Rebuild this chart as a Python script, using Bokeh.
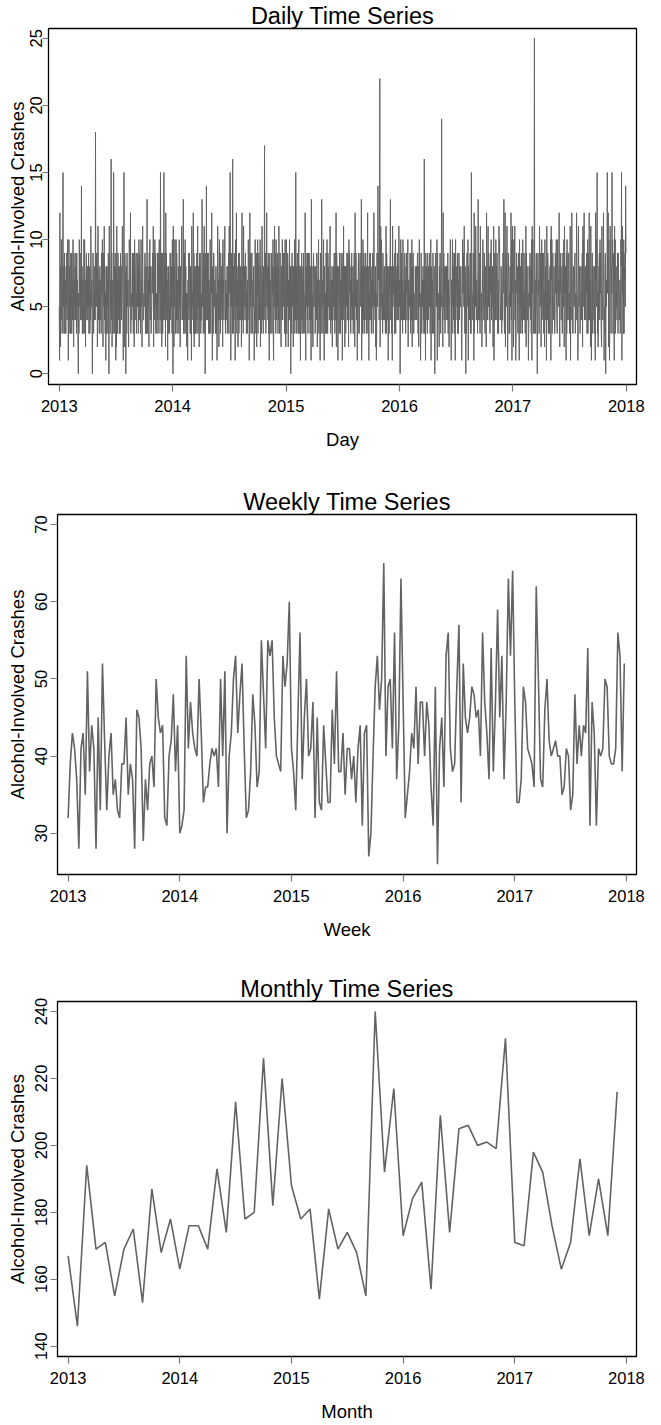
from bokeh.plotting import figure
from bokeh.layouts import column
from bokeh.models import FixedTicker, Range1d
from bokeh.embed import file_html
from bokeh.resources import INLINE

FONT = "Liberation Sans"

# ---------------- data ----------------
# Daily counts, one base-36 character per day (0-9, a=10 ... p=25), one string per year
daily_2013 = (
    "51c6284a73" "49f5836937" "6385947a51" "7a48363959" "3748a62957" "4849639574"
    "2063a85947" "6e4837354a" "3a86274958" "8465937836" "4b85730496" "388464i597"
    "5926b84736" "84473968a5" "2795b48361" "6838573940" "b86375g492" "5736f83849"
    "6182b57394" "8683739584" "68b7315f62" "9870483956" "7426a958c3" "6447958395"
    "2a74689365" "95837a4946" "38a5729b64" "4657993883" "4d63857296" "a487345869"
    "7b2648a593" "5643948973" "a684f73925" "93647f4958" "2c69475183" "8753694958"
    "63a"
)
daily_2014 = (
    "40b6285a73" "5a49374586" "3a5728469b" "6457d38493" "a483626517" "5949863837"
    "1b8564c392" "7843836945" "b385629497" "3644d85739" "7b380594e6" "4948937635"
    "a7396c5184" "3996574388" "3615b94728" "a493746859" "2a67489b53" "7464835859"
    "3b86f71495" "83g6384957" "1a93c58472" "6939458847" "29c4863b57" "8449583653"
    "74a8613c59" "5369943758" "8154a73962" "96a3849547" "a28536b947" "3864h59934"
    "7c56849381" "5947368938" "6a3185b749" "3a64859384" "b735964288" "4a47596938"
    "a52"
)
daily_2015 = (
    "6a38598274" "4a47808639" "5782846a39" "4f58379463" "9a37851846" "9374839665"
    "3c61857949" "3975948368" "1d48362897" "5873486499" "2758a37461" "9834d85736"
    "a518466397" "3a73958644" "9b63745827" "4885973946" "c294851786" "3957369848"
    "1694b56827" "8385794946" "2a69847385" "9464837795" "2c58946717" "3896348975"
    "6d1583a749" "3874896384" "5c38716497" "9473685943" "7c95648261" "3956e79848"
    "m28b5a7463" "9647848536" "b396487158" "3869d45837" "1b58867394" "a385749648"
    "4b7"
)
daily_2016 = (
    "5703a84967" "3a84564957" "3869458a27" "4657983946" "a284973655" "4864584799"
    "3827a56614" "9536758473" "g357196846" "3974885593" "6a18574394" "3684039865"
    "7a19465528" "497365j964" "2c59478386" "6485849376" "2568a95174" "3a57849397"
    "1a46785937" "3694875586" "3147a6985b" "5386043897" "5a18664793" "93f8546697"
    "1c3895b847" "6538d47549" "3b8546247a" "9644963857" "2c7548b596" "483796a475"
    "8526b13794" "5a48796374" "3b9a645587" "3645969d43" "7c28957b61" "4897363856"
    "c4a17b"
)
daily_2017 = (
    "6a2458b471" "3996843597" "1a75836946" "3a84597463" "5b29684461" "387595483a"
    "1b6a5349p3" "7538954049" "6743b85792" "4a45979356" "2a58461b74" "983763485a"
    "1b7a359654" "8534968a54" "3a9675c428" "6944583697" "5a2b678419" "3a74599463"
    "8b1546c953" "3875589346" "4c96512b85" "7835484669" "2b5a9c4786" "486935a394"
    "8c4672b516" "9938664835" "1c7a59f362" "48894a6953" "2b6547c815" "38907576f6"
    "8c2a514b97" "386f8a3495" "1b7a358564" "9839664473" "5a8f14b693" "a38795e9"
)
daily_years = [2013, 2014, 2015, 2016, 2017]
daily_codes = [daily_2013, daily_2014, daily_2015, daily_2016, daily_2017]

weekly_counts = [
    32, 39, 43, 41, 37, 28, 41, 43, 35, 51, 38, 44, 41, 28, 45, 33, 52, 42, 33, 40,
    43, 35, 37, 33, 32, 39, 39, 45, 35, 39, 37, 28, 46, 45, 41, 29, 37, 33, 39, 40,
    36, 50, 45, 43, 44, 32, 31, 40, 42, 48, 38, 44, 30, 31, 33, 53, 41, 47, 43, 41,
    40, 50, 43, 34, 36, 36, 39, 41, 40, 41, 36, 50, 40, 51, 30, 40, 43, 50, 53, 43,
    48, 52, 41, 32, 33, 38, 48, 44, 36, 38, 55, 48, 41, 55, 53, 55, 45, 40, 39, 38,
    53, 49, 52, 60, 41, 38, 33, 45, 56, 37, 45, 50, 40, 41, 47, 32, 45, 34, 33, 44,
    39, 34, 34, 46, 39, 51, 38, 38, 43, 35, 41, 41, 37, 40, 34, 41, 44, 31, 43, 44,
    27, 30, 40, 49, 53, 46, 50, 65, 40, 49, 50, 41, 56, 37, 44, 63, 47, 32, 35, 38,
    43, 41, 49, 39, 47, 47, 40, 47, 44, 36, 31, 49, 26, 41, 45, 36, 53, 56, 41, 38,
    39, 49, 57, 34, 52, 45, 43, 45, 49, 48, 45, 46, 40, 56, 47, 43, 37, 54, 38, 47,
    59, 45, 53, 37, 47, 63, 53, 64, 47, 34, 34, 37, 49, 47, 41, 40, 39, 36, 62, 50,
    37, 36, 46, 50, 42, 40, 41, 42, 40, 40, 35, 36, 41, 40, 33, 35, 48, 39, 44, 40,
    44, 43, 54, 31, 47, 43, 31, 41, 40, 41, 50, 49, 40, 39, 39, 41, 56, 53, 38, 52,
]

monthly_counts = [
    167, 146, 194, 169, 171, 155, 169, 175, 153, 187, 168, 178,
    163, 176, 176, 169, 193, 174, 213, 178, 180, 226, 182, 220,
    188, 178, 181, 154, 181, 169, 174, 168, 155, 240, 192, 217,
    173, 184, 189, 157, 209, 174, 205, 206, 200, 201, 199, 232,
    171, 170, 198, 192, 176, 163, 171, 196, 173, 190, 173, 216,
]

x_ticks = [2013, 2014, 2015, 2016, 2017, 2018]
daily_ticks = [0, 5, 10, 15, 20, 25]
weekly_ticks = [30, 40, 50, 60, 70]
monthly_ticks = [140, 160, 180, 200, 220, 240]

titles = ["Daily Time Series", "Weekly Time Series", "Monthly Time Series"]
xlabels = ["Day", "Week", "Month"]
ylabel = "Alcohol-Involved Crashes"

# ---------------- series positions (fractional year) ----------------
daily_x, daily_y = [], []
for yr, s in zip(daily_years, daily_codes):
    n = len(s)
    for d, ch in enumerate(s):
        daily_x.append(yr + d / n)
        daily_y.append(int(ch, 36))

weekly_x = [2013 + i / 52 for i in range(len(weekly_counts))]
monthly_x = [2013 + m / 12 for m in range(len(monthly_counts))]

LINE = "#636363"


def make_fig(title, xlabel, yticks, yrange, height, left, top, bottom,
             lab_std, axlab_std, tick_out):
    p = figure(width=645, height=height, output_backend="svg", toolbar_location=None,
               x_range=Range1d(2012.905, 2018.09), y_range=Range1d(*yrange),
               min_border_left=left, min_border_right=9,
               min_border_top=top, min_border_bottom=bottom,
               background_fill_color="white", border_fill_color="white")
    p.title.text = title
    p.title.align = "center"
    p.title.text_font = FONT
    p.title.text_font_size = "23.5px"
    p.title.text_font_style = "normal"
    p.title.text_color = "black"
    p.title.standoff = 0
    p.xgrid.visible = False
    p.ygrid.visible = False
    p.outline_line_color = "black"
    p.outline_line_width = 1.3
    p.outline_line_alpha = 1.0
    for ax in (p.xaxis[0], p.yaxis[0]):
        ax.axis_line_color = None
        ax.major_tick_in = 0
        ax.major_tick_out = 7
        ax.major_tick_line_color = "#777777"
        ax.major_tick_line_width = 1.2
        ax.minor_tick_line_color = None
        ax.major_label_text_font = FONT
        ax.major_label_text_font_size = "16.5px"
        ax.major_label_text_color = "black"
        ax.axis_label_text_font = FONT
        ax.axis_label_text_font_size = "18.5px"
        ax.axis_label_text_font_style = "normal"
        ax.axis_label_text_color = "black"
    p.yaxis.major_tick_out = tick_out
    p.xaxis.ticker = FixedTicker(ticks=x_ticks)
    p.yaxis.ticker = FixedTicker(ticks=yticks)
    p.xaxis.axis_label = xlabel
    p.yaxis.axis_label = ylabel
    p.xaxis.major_label_standoff = 8
    p.xaxis.axis_label_standoff = 14
    p.yaxis.major_label_standoff = lab_std
    p.yaxis.axis_label_standoff = axlab_std
    p.yaxis.major_label_orientation = "vertical"
    return p


p1 = make_fig(titles[0], xlabels[0], daily_ticks, (-0.8, 25.73), 452, 48, 28, 63, 0, 0, 6)
p1.line(daily_x, daily_y, line_color=LINE, line_width=1)

p2 = make_fig(titles[1], xlabels[1], weekly_ticks, (24.67, 71.3), 490, 57, 62, 63, 3, 5, 7)
p2.line(weekly_x, weekly_counts, line_color=LINE, line_width=1.6)

p3 = make_fig(titles[2], xlabels[2], monthly_ticks, (136.9, 243.0), 482, 57, 59, 63, 3, 5, 7)
p3.line(monthly_x, monthly_counts, line_color=LINE, line_width=1.6)

layout = column(column(p1), column(p2), column(p3), spacing=0)
open("out.html", "w").write(file_html(layout, INLINE))
